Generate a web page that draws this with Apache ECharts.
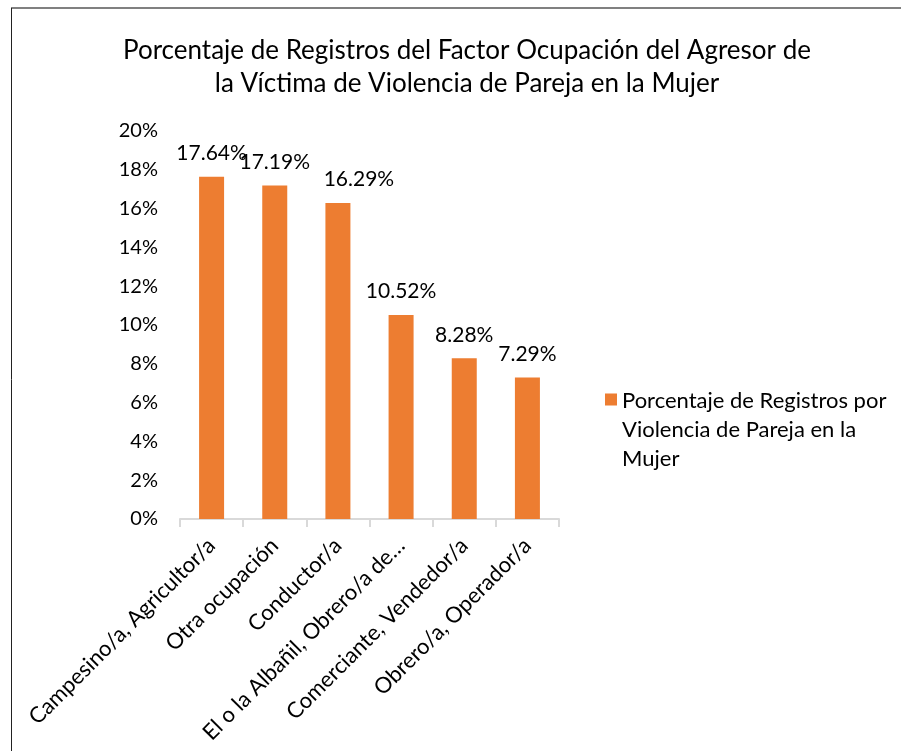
<!DOCTYPE html>
<html>
<head>
<meta charset="utf-8">
<script src="https://cdn.jsdelivr.net/npm/echarts@6/dist/echarts.min.js"></script>
<style>
  html, body { margin: 0; padding: 0; background: #fff; }
  #main { width: 901px; height: 751px; }
</style>
</head>
<body>
<div id="main"></div>
<script>
// ocupaciones del agresor
const categorias = [
  'Campesino/a, Agricultor/a',
  'Otra ocupación',
  'Conductor/a',
  'El o la Albañil, Obrero/a de…',
  'Comerciante, Vendedor/a',
  'Obrero/a, Operador/a'
];
const porcentajes = [17.64, 17.19, 16.29, 10.52, 8.28, 7.29];
const ticksY = [0, 2, 4, 6, 8, 10, 12, 14, 16, 18, 20];
const nombreSerie = 'Porcentaje de Registros por Violencia de Pareja en la Mujer';

const fuente = 'Lato, sans-serif';
const chart = echarts.init(document.getElementById('main'));

// la etiqueta de Conductor/a va corrida a la derecha, como en el original
const datosBarras = porcentajes.map((v, i) => i === 2
  ? { value: v, label: { offset: [21, 0] } }
  : v);

chart.setOption({
  animation: false,
  backgroundColor: '#fff',
  textStyle: { fontFamily: fuente, color: '#000' },
  title: {
    text: 'Porcentaje de Registros del Factor Ocupación del Agresor de\nla Víctima de Violencia de Pareja en la Mujer',
    left: 462,
    textAlign: 'center',
    top: 29,
    textStyle: { fontFamily: fuente, fontSize: 26, fontWeight: 'normal', color: '#000', lineHeight: 33 }
  },
  legend: {
    left: 600,
    top: 381,
    orient: 'vertical',
    itemWidth: 12,
    itemHeight: 72,
    itemGap: 6,
    // cuadrado arriba, alineado con la primera linea
    icon: 'path://M0,0L12,0L12,12L0,12Z M0,72L12,72L12,72.01Z',
    data: [nombreSerie],
    formatter: () => 'Porcentaje de Registros por\nViolencia de Pareja en la\nMujer',
    textStyle: { fontFamily: fuente, fontSize: 22, color: '#000', lineHeight: 29 }
  },
  grid: { left: 180, right: 342, top: 131, bottom: 232, containLabel: false },
  xAxis: {
    type: 'category',
    data: categorias,
    axisLine: { lineStyle: { color: '#d9d9d9', width: 2 } },
    axisTick: { show: true, length: 8, lineStyle: { color: '#d9d9d9', width: 2 } },
    axisLabel: {
      rotate: 45,
      interval: 0,
      margin: 23,
      fontFamily: fuente,
      fontSize: 22,
      color: '#000'
    }
  },
  yAxis: {
    type: 'value',
    min: 0,
    max: 20,
    interval: 2,
    axisLine: { show: false },
    axisTick: { show: false },
    splitLine: { show: false },
    axisLabel: {
      margin: 22,
      fontFamily: fuente,
      fontSize: 20,
      color: '#000',
      formatter: v => ticksY.includes(v) ? v + '%' : ''
    }
  },
  series: [{
    name: nombreSerie,
    type: 'bar',
    data: datosBarras,
    barWidth: 25,
    itemStyle: { color: '#ed7d31' },
    label: {
      show: true,
      position: 'top',
      distance: 13,
      fontFamily: fuente,
      fontSize: 21,
      color: '#000',
      formatter: p => p.value.toFixed(2) + '%'
    }
  }],
  graphic: [
    { type: 'line', shape: { x1: 11, y1: 8, x2: 901, y2: 8 }, style: { stroke: '#808080', lineWidth: 2 } },
    { type: 'line', shape: { x1: 11.5, y1: 8, x2: 11.5, y2: 751 }, style: { stroke: '#222', lineWidth: 1 } }
  ]
});
</script>
</body>
</html>
